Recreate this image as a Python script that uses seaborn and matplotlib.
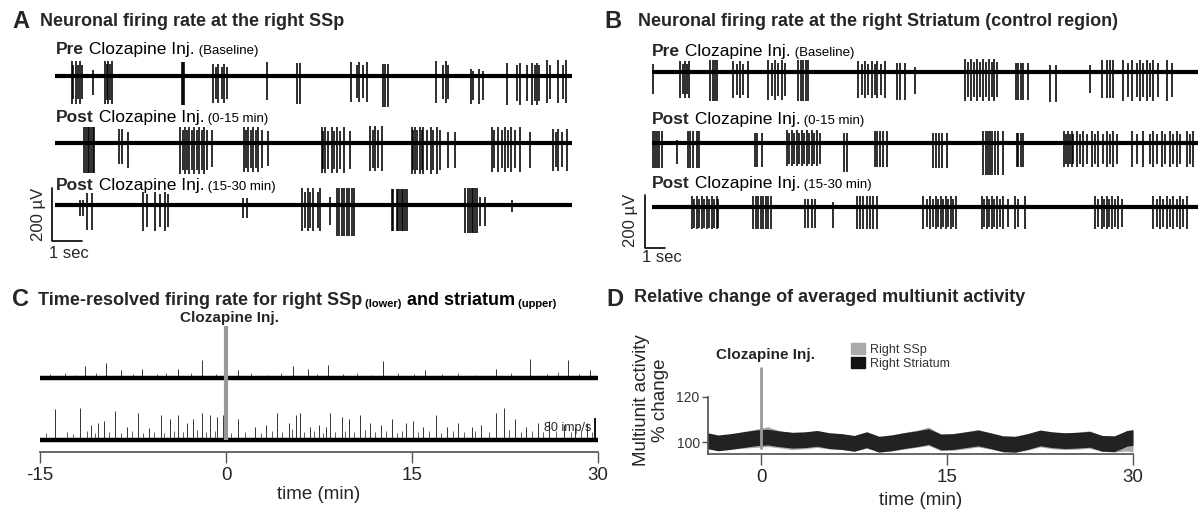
import matplotlib
matplotlib.use("Agg")
import matplotlib.pyplot as plt
from matplotlib.patches import Patch
import seaborn as sns

a_pre = [
    ([0.56, 0.70, 0.83], 104, 55), ([0.61, 0.76, 0.91], 86, 40),
    ([1.28], 73, 22),
    ([1.67, 1.78, 1.89], 104, 58), ([1.72, 1.83], 90, 45),
    ([4.22, 4.26, 4.30], 110, 53),
    ([5.27, 5.44, 5.64], 102, 46), ([5.36, 5.56, 5.72], 88, 35),
    ([7.06], 92, 53),
    ([8.08, 8.17], 106, 50),
    ([9.86, 10.14, 10.39], 98, 52), ([10.06, 10.26], 84, 40),
    ([10.92, 11.00, 11.11], 116, 45),
    ([12.70, 13.02], 100, 56), ([12.94, 13.11], 88, 42),
    ([13.86, 14.14], 104, 28), ([13.94, 14.28], 92, 20),
    ([15.06, 15.50, 15.89, 16.08], 110, 50), ([15.39, 15.72, 16.00, 16.14], 95, 40),
    ([16.41, 16.78, 17.02], 100, 60), ([16.50, 16.94], 88, 40),
]
a_post1 = [
    ([0.98, 1.03, 1.09, 1.14, 1.20, 1.26, 1.31], 113, 62),
    ([2.13, 2.22], 80, 55), ([2.44], 95, 40),
    ([4.17, 4.33, 4.47, 4.63, 4.81, 4.97], 115, 60), ([4.26, 4.39, 4.56, 4.72, 4.89, 5.06], 100, 50),
    ([5.22], 90, 50),
    ([6.30, 6.44, 6.61, 6.78], 110, 60), ([6.37, 6.52, 6.70, 6.89], 95, 48), ([7.11], 85, 45),
    ([8.89, 9.00, 9.22, 9.41, 9.63], 112, 62), ([8.94, 9.11, 9.30, 9.50, 9.83], 96, 45),
    ([10.50, 10.67, 10.89], 105, 65), ([10.59, 10.78], 92, 50),
    ([11.89, 12.00, 12.17, 12.28, 12.52, 12.72], 118, 62), ([11.94, 12.08, 12.22, 12.39, 12.61, 12.83], 100, 50),
    ([13.11, 13.33], 95, 40),
    ([14.56, 14.78, 15.00, 15.19, 15.50], 110, 62), ([14.63, 14.89, 15.11, 15.33], 95, 48),
    ([15.83], 95, 40),
    ([16.61, 16.78, 17.06], 105, 55), ([16.70, 16.89], 90, 42),
]
a_post2 = [
    ([0.83, 0.92], 40, 20), ([1.06, 1.22], 95, 45),
    ([2.94, 3.33, 3.67], 98, 50), ([3.06, 3.50, 3.78], 85, 40),
    ([6.28, 6.39], 50, 25),
    ([8.22, 8.44, 8.61, 8.83], 100, 63), ([8.33, 8.50, 8.78], 88, 50),
    ([9.17], 75, 30),
    ([9.39, 9.48, 9.56, 9.63, 9.72, 9.81, 9.89, 9.97], 118, 63),
    ([11.22, 11.28, 11.39, 11.44, 11.50, 11.56, 11.61, 11.67, 11.72], 100, 60),
    ([13.67, 13.78, 13.83, 13.89, 13.94, 14.00, 14.06], 105, 63), ([14.17, 14.33], 80, 30),
    ([15.22], 25, 20),
]
b_pre = [
    ([0.07], 85, 30),
    ([1.40, 1.65, 1.87], 100, 40), ([1.54, 1.77], 85, 30),
    ([2.90, 3.04, 3.15, 3.27], 110, 45),
    ([4.07, 4.40, 4.82], 100, 40), ([4.24, 4.57], 88, 30),
    ([5.82, 6.15, 6.49], 105, 45), ([5.99, 6.32, 6.65], 92, 35),
    ([7.32, 7.44, 7.57, 7.69, 7.82], 110, 45),
    ([10.32, 10.65, 10.99, 11.27, 11.65], 100, 40), ([10.49, 10.82, 11.15, 11.44], 88, 32),
    ([12.24, 12.40, 12.65], 105, 35),
    ([13.15], 85, 20),
    ([15.65, 15.95, 16.25, 16.55, 16.85, 17.10], 110, 50), ([15.80, 16.10, 16.40, 16.70, 17.00, 17.25], 95, 38),
    ([18.20, 18.30, 18.45, 18.55, 18.80], 105, 35),
    ([19.90, 20.20], 115, 25),
    ([21.90], 80, 25),
    ([22.50, 22.75, 22.90, 23.05], 100, 45),
    ([23.55, 24.00, 24.40, 24.75, 25.05, 25.75], 110, 45), ([23.80, 24.25, 24.55, 24.90, 25.30, 26.00], 95, 35),
]
b_post1 = [
    ([0.07, 0.15, 0.25, 0.35, 0.49], 95, 45),
    ([1.24], 80, 10),
    ([1.82, 1.90, 2.07, 2.24, 2.37], 95, 45),
    ([5.15, 5.27, 5.49], 90, 40),
    ([6.74, 6.99, 7.24, 7.49, 7.74, 7.99, 8.24], 88, 50), ([6.85, 7.10, 7.37, 7.60, 7.85, 8.10, 8.40], 78, 40),
    ([9.60, 9.74], 110, 40),
    ([11.15, 11.27, 11.40, 11.57, 11.74], 90, 45),
    ([14.07, 14.20, 14.37, 14.49, 14.74], 95, 40),
    ([16.57, 16.70, 16.82, 16.90, 16.99, 17.15, 17.32, 17.57], 120, 45),
    ([18.24, 18.32, 18.44, 18.57], 90, 40),
    ([20.60, 20.82, 20.99, 21.24, 21.57, 21.99, 22.32, 22.74, 23.07], 92, 45),
    ([20.70, 20.90, 21.07, 21.40, 21.74, 22.15, 22.57, 22.90, 23.24], 80, 35),
    ([23.99, 24.57, 25.04, 25.49, 25.90, 26.24, 26.74, 27.07], 92, 45),
    ([24.24, 24.90, 25.24, 25.65, 26.07, 26.40, 26.90], 80, 35),
]
b_post2 = [
    ([1.99, 2.24, 2.49, 2.74, 2.99, 3.24], 85, 40), ([2.10, 2.37, 2.60, 2.87, 3.10, 3.32], 78, 32),
    ([5.07, 5.20, 5.32, 5.44, 5.57, 5.70, 5.82, 5.94], 85, 40),
    ([7.65, 7.82, 7.99, 8.15], 80, 30),
    ([9.07], 80, 20),
    ([10.24, 10.40, 10.54, 10.74, 10.90, 11.07, 11.24], 85, 40),
    ([13.57, 13.90, 14.20, 14.44, 14.70, 14.94, 15.20], 85, 40), ([13.74, 14.07, 14.32, 14.57, 14.82, 15.07], 76, 30),
    ([16.49, 16.74, 16.99, 17.24, 17.57, 18.15, 18.65], 85, 42), ([16.60, 16.87, 17.10, 17.40, 17.82, 18.32], 76, 30),
    ([22.15, 22.49, 22.74, 22.99, 23.32], 85, 40), ([22.32, 22.60, 22.87, 23.15, 23.49], 76, 30),
    ([25.07, 25.40, 25.74, 26.07, 26.40, 26.74], 85, 40), ([25.24, 25.57, 25.90, 26.24, 26.57], 76, 30),
]

# --- panel C: firing-rate peaks (time in min, height in imp/s) ---
ssp_peak_t = [-13.78, -11.81, -10.9, -10.29, -9.83, -8.92, -8.01, -7.1, -6.18, -5.27, -4.51, -3.9,
              -3.14, -2.69, -1.93, -1.32, -0.71, -0.26, 0.96, 2.33, 3.24, 4.15, 5.06, 5.67, 5.98,
              6.74, 7.5, 8.1, 8.41, 9.32, 9.93, 10.84, 11.6, 12.51, 13.42, 14.49, 15.1, 15.86,
              16.92, 17.83, 18.74, 19.81, 20.57, 21.78, 22.39, 23.3, 24.22, 25.13, 26.04, 27.26,
              28.17, 29.08]
ssp_peak_h = [116, 123, 58, 65, 73, 109, 51, 102, 44, 94, 80, 94, 65, 80, 102, 94, 87, 94, 80,
              51, 58, 102, 65, 94, 102, 51, 58, 51, 102, 87, 80, 94, 65, 58, 80, 65, 73, 51, 94,
              51, 65, 51, 58, 102, 123, 80, 51, 65, 73, 58, 51, 65]
ssp_small_t = [-14.5, -12.8, -12.3, -11.2, -10.6, -9.4, -8.5, -7.6, -6.7, -5.8, -5.0, -4.2, -3.5,
               -2.3, -1.6, -0.9, 0.4, 1.5, 2.8, 3.7, 4.5, 5.3, 6.3, 7.1, 7.8, 8.8, 9.6, 10.3,
               11.2, 12.0, 12.9, 13.8, 14.2, 15.5, 16.4, 17.3, 18.3, 19.2, 20.1, 21.2, 22.8,
               23.8, 24.7, 25.6, 26.6, 27.8, 28.6, 29.5]
ssp_small_h = [25, 30, 22, 35, 28, 30, 25, 35, 28, 30, 25, 35, 30, 38, 30, 35, 28, 30, 25, 35,
               30, 40, 30, 35, 28, 30, 35, 30, 38, 30, 35, 28, 35, 30, 35, 28, 35, 30, 35, 30,
               38, 30, 35, 30, 35, 30, 38, 30]
str_peak_t = [-11.35, -9.68, -8.46, -6.79, -3.9, -1.93, 0.96, 5.37, 6.58, 8.26, 12.66, 16.01,
              21.78, 24.52, 27.56, 29.38]
str_peak_h = [44, 58, 29, 36, 36, 68, 29, 44, 36, 51, 65, 29, 36, 73, 68, 29]
str_small_t = [-14.2, -13.0, -12.1, -10.5, -7.5, -5.6, -4.8, -2.8, -0.8, 2.0, 3.3, 4.4, 7.3,
               9.4, 10.6, 11.7, 13.9, 15.2, 17.4, 18.7, 20.2, 23.0, 25.9, 26.8, 28.5]
str_small_h = [14, 18, 12, 20, 16, 14, 18, 20, 14, 18, 12, 20, 16, 14, 18, 12, 20, 16, 14, 18,
               12, 20, 16, 22, 14]

# --- panel D: multiunit activity bands (% change) ---
d_time = [-4.5, -3.5, -2.5, -1.5, -0.5, 0.5, 1.5, 2.5, 3.5, 4.5, 5.5, 6.5, 7.5, 8.5, 9.5, 10.5,
          11.5, 12.5, 13.5, 14.5, 15.5, 16.5, 17.5, 18.5, 19.5, 20.5, 21.5, 22.5, 23.5, 24.5,
          25.5, 26.5, 27.5, 28.5, 29.5, 30]
ssp_lo = [97.0, 96.2, 96.8, 97.2, 97.6, 98.0, 97.4, 96.6, 97.0, 97.6, 96.9, 96.6, 95.9, 97.2,
          95.6, 96.0, 96.8, 97.6, 98.4, 96.2, 96.3, 97.0, 97.8, 96.8, 95.6, 95.4, 96.4, 97.8,
          97.0, 96.6, 96.8, 97.2, 95.8, 95.6, 96.0, 95.6]
ssp_hi = [104.0, 102.8, 103.4, 104.6, 105.6, 106.8, 105.0, 104.2, 104.4, 105.0, 104.0, 103.6,
          102.8, 104.6, 102.6, 103.2, 104.2, 105.2, 106.6, 103.6, 103.8, 104.6, 105.6, 104.0,
          102.8, 102.6, 103.8, 105.2, 104.4, 104.0, 104.4, 105.0, 102.8, 102.8, 104.4, 104.8]
str_lo = [97.3, 96.1, 96.7, 97.5, 98.3, 98.7, 97.9, 97.3, 97.5, 98.1, 97.1, 96.7, 95.9, 97.5,
          95.5, 96.1, 97.1, 97.9, 98.9, 96.5, 96.7, 97.5, 98.3, 97.1, 95.7, 95.5, 96.7, 98.3,
          97.5, 97.1, 97.3, 97.7, 95.9, 95.7, 98.1, 98.5]
str_hi = [104.3, 103.1, 103.7, 104.5, 105.3, 105.7, 104.9, 104.3, 104.5, 105.1, 104.1, 103.7,
          102.9, 104.5, 102.5, 103.1, 104.1, 104.9, 105.9, 103.5, 103.7, 104.5, 105.3, 104.1,
          102.7, 102.5, 103.7, 105.3, 104.5, 104.1, 104.3, 104.7, 102.9, 102.7, 105.1, 105.5]

sns.set_theme(style="white")
plt.rcParams["font.family"] = ["Liberation Sans", "DejaVu Sans"]

W, H = 1198, 516
fig = plt.figure(figsize=(W / 100, H / 100), dpi=100)
fig.patch.set_facecolor("white")


def box(x0, y0, x1, y1):
    # axes rectangle from pixel corners (top-left origin)
    return [x0 / W, 1 - y1 / H, (x1 - x0) / W, (y1 - y0) / H]


def fpos(x, y):
    return (x / W, 1 - y / H)


def ftext(x, y, s, **kw):
    return fig.text(*fpos(x, y), s, **kw)


def chain(ax, first, parts):
    # put text pieces one after another on the same line
    prev = first
    for s, size, weight in parts:
        prev = ax.annotate(s, xy=(1, 0), xycoords=prev, va="bottom", ha="left",
                           fontsize=size, weight=weight, color="black")
    return prev


def trace_label(ax, x, y, bold, small):
    t = ftext(x, y, bold, fontsize=12.5, weight="bold", va="baseline")
    chain(ax, t, [(" Clozapine Inj.", 12.5, "normal"), (" " + small, 9.5, "normal")])


def draw_traces(ax, traces, offsets, t_end):
    for bursts, off in zip(traces, offsets):
        ax.hlines(off, 0, t_end, color="black", lw=3)
        for times, down, up in bursts:
            ax.vlines(times, off - down, off + up, color="black", lw=1.15)


# ---------------- A ----------------
ax_a = fig.add_axes(box(0, 0, 600, 270))
ax_a.set_xlim(-55 / 30, 545 / 30)
ax_a.set_ylim(-(270 - 76) * 3.77, 76 * 3.77)
ax_a.axis("off")
draw_traces(ax_a, [a_pre, a_post1, a_post2], [0, -253, -486], 17.23)
ax_a.plot([-0.11, -0.11, 0.89], [-422, -622, -622], color="black", lw=1.2)
ftext(12, 21, "A", fontsize=17, weight="bold", va="center")
ftext(40, 21, "Neuronal firing rate at the right SSp", fontsize=13, weight="bold", va="center")
trace_label(ax_a, 56, 54, "Pre", "(Baseline)")
trace_label(ax_a, 56, 122, "Post", "(0-15 min)")
trace_label(ax_a, 56, 190, "Post", "(15-30 min)")
ftext(39, 214, "200 µV", fontsize=12, rotation=90, ha="center", va="center")
ftext(69, 253, "1 sec", fontsize=12, ha="center", va="center")

# ---------------- B ----------------
ax_b = fig.add_axes(box(600, 0, 1198, 270))
ax_b.set_xlim(-52 / 20, 546 / 20)
ax_b.set_ylim(-(270 - 72) * 3.8, 72 * 3.8)
ax_b.axis("off")
draw_traces(ax_b, [b_pre, b_post1, b_post2], [0, -270, -513], 27.3)
ax_b.plot([-0.35, -0.35, 0.65], [-467, -667, -667], color="black", lw=1.2)
ftext(604, 21, "B", fontsize=17, weight="bold", va="center")
ftext(638, 21, "Neuronal firing rate at the right Striatum (control region)",
      fontsize=13, weight="bold", va="center")
trace_label(ax_b, 652, 56, "Pre", "(Baseline)")
trace_label(ax_b, 652, 124, "Post", "(0-15 min)")
trace_label(ax_b, 652, 188, "Post", "(15-30 min)")
ftext(630, 220, "200 µV", fontsize=12, rotation=90, ha="center", va="center")
ftext(662, 258, "1 sec", fontsize=12, ha="center", va="center")

# ---------------- C ----------------
K = 3.8  # imp/s per pixel
ax_c = fig.add_axes(box(40, 318, 598, 452))
ax_c.set_xlim(-15, 30)
ax_c.set_ylim(-(452 - 440) * K, (440 - 318) * K)
upper = 62 * K
ax_c.vlines(ssp_small_t, 0, ssp_small_h, color="#444444", lw=0.6)
ax_c.vlines(ssp_peak_t, 0, ssp_peak_h, color="#333333", lw=0.7)
ax_c.vlines(str_small_t, upper, [upper + h for h in str_small_h], color="#444444", lw=0.6)
ax_c.vlines(str_peak_t, upper, [upper + h for h in str_peak_h], color="#333333", lw=0.7)
ax_c.hlines([0, upper], -15, 30, color="black", lw=3.2)
ax_c.vlines(0, 0, (440 - 326) * K, color="#999999", lw=3, zorder=5)
ax_c.vlines(29.75, 4, 84, color="black", lw=1.3)
ax_c.text(29.45, 44, "80 imp/s", fontsize=9, ha="right", va="center")
ax_c.set_xticks([-15, 0, 15, 30])
ax_c.set_xticklabels(["-15", "0", "15", "30"])
ax_c.set_yticks([])
ax_c.tick_params(axis="x", direction="out", length=8, width=1, color="#555555",
                 labelsize=13.5, pad=3, bottom=True)
ax_c.set_xlabel("time (min)", fontsize=13.5, labelpad=1)
sns.despine(ax=ax_c, left=True)
ax_c.spines["bottom"].set_bounds(-15, 30)
ax_c.spines["bottom"].set_color("#555555")
ax_c.patch.set_alpha(0)
ftext(12, 299, "C", fontsize=17, weight="bold", va="center")
tc = ftext(38, 305, "Time-resolved firing rate for right SSp", fontsize=13, weight="bold",
           va="baseline")
chain(ax_c, tc, [(" (lower)", 8, "bold"), (" and striatum", 13, "bold"), (" (upper)", 8, "bold")])
ftext(229, 318, "Clozapine Inj.", fontsize=11, weight="bold", ha="center", va="center")

# ---------------- D ----------------
D_PX = 2.25  # pixels per % unit
ax_d = fig.add_axes(box(708, 330, 1133, 454))
ax_d.set_xlim(-4.3, 30)
ax_d.set_ylim(100 - 12 / D_PX, 100 + 112 / D_PX)
ax_d.fill_between(d_time, ssp_lo, ssp_hi, color="#aaaaaa", lw=0)
ax_d.fill_between(d_time, str_lo, str_hi, color="#222222", lw=0)
ax_d.vlines(0, 97, 100 + (442 - 367) / D_PX, color="#999999", lw=2, zorder=5)
ax_d.set_xticks([0, 15, 30])
ax_d.set_yticks([100, 120])
ax_d.tick_params(axis="x", direction="out", length=8, width=1, color="#555555",
                 labelsize=13.5, pad=3, bottom=True)
ax_d.tick_params(axis="y", direction="out", length=4, width=1, color="#555555",
                 labelsize=10, labelcolor="#333333", pad=2, left=True)
sns.despine(ax=ax_d)
ax_d.spines["bottom"].set_bounds(-4.3, 30)
ax_d.spines["left"].set_bounds(100 - 12 / D_PX, 120)
for sp in ("bottom", "left"):
    ax_d.spines[sp].set_color("#555555")
ax_d.set_xlabel("time (min)", fontsize=13.5, labelpad=4)
ax_d.patch.set_alpha(0)
ftext(651, 400, "Multiunit activity\n% change", fontsize=13.5, rotation=90,
      ha="center", va="center", linespacing=1.15)
ftext(766, 355, "Clozapine Inj.", fontsize=11, weight="bold", ha="center", va="center")
ftext(606, 299, "D", fontsize=17, weight="bold", va="center")
ftext(634, 298, "Relative change of averaged multiunit activity", fontsize=13,
      weight="bold", va="center")
leg = fig.legend(handles=[Patch(color="#aaaaaa", label="Right SSp"),
                          Patch(color="#111111", label="Right Striatum")],
                 loc="upper left", bbox_to_anchor=fpos(851, 343), frameon=False,
                 fontsize=9, handlelength=1.1, handleheight=1.0, handletextpad=0.4,
                 labelspacing=0.1, borderpad=0, borderaxespad=0)
for t in leg.get_texts():
    t.set_color("#333333")

fig.savefig("out.png", dpi=100, facecolor="white")
